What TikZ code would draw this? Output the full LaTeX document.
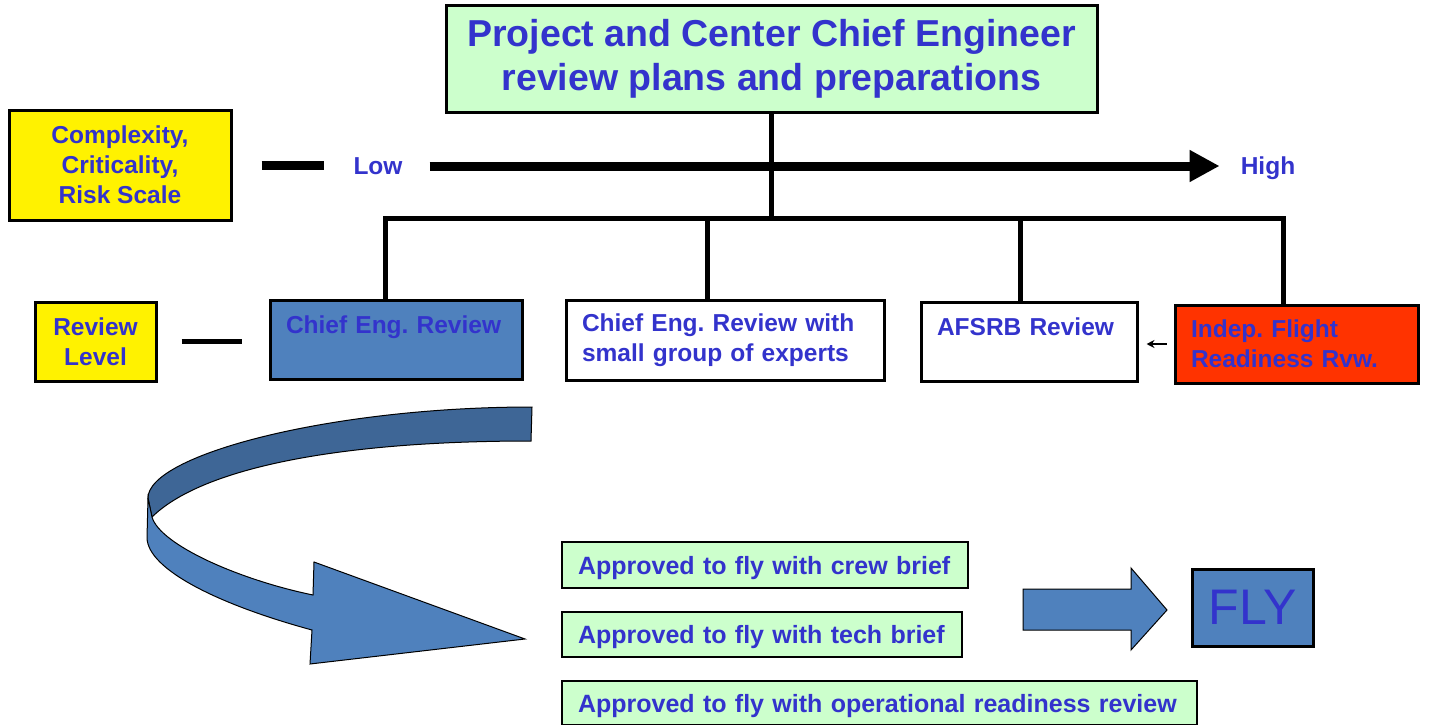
\documentclass[tikz,border=0pt]{standalone}
\usepackage{fontspec}
\setmainfont{Liberation Sans}
\usetikzlibrary{arrows.meta}
\definecolor{txtblue}{HTML}{3333CC}
\definecolor{palegreen}{HTML}{CCFFCC}
\definecolor{boxblue}{HTML}{4F81BD}
\definecolor{ribbondark}{HTML}{3E6696}
\definecolor{flame}{HTML}{FF3300}
\frenchspacing
\begin{document}
\begin{tikzpicture}[x=1pt, y=-1pt, line join=miter, >=stealth,
		every node/.style={text=txtblue, font=\fontsize{24.5}{30}\selectfont\bfseries},
		panel/.style={draw=black, line width=3pt, inner xsep=16pt, inner ysep=0pt},
		leftpanel/.style={panel, align=left},
		approved/.style={leftpanel, fill=palegreen, line width=2.5pt, text depth=0pt, font=\fontsize{25}{30}\selectfont\bfseries},
		lbl/.style={inner sep=0pt, text depth=0pt},
		branch/.style={line width=5pt}]
	\useasboundingbox (0,0) rectangle (1429,725);
	\node[panel, fill=palegreen, align=center, minimum width=651pt, minimum height=106pt, font=\fontsize{37.5}{44}\selectfont\bfseries] (title) at (771.5,59) {Project and Center Chief Engineer\\review plans and preparations};
	\node[panel, fill=yellow, align=center, minimum width=222pt, minimum height=110pt] (crit) at (120,165) {Complexity,\\Criticality,\\Risk Scale};
	\node[lbl] (low) at (378,166) {Low};
	\node[lbl] (high) at (1268,166) {High};
	\draw[line width=9pt, shorten <=29pt, shorten >=29pt] (crit.east) -- (crit.east -| low.west);
	\draw[line width=9pt, -{Triangle[length=30pt, width=30pt]}, shorten <=27pt, shorten >=21pt] (low.east) -- (high.west);
	
	\node[panel, fill=yellow, align=center, minimum width=121pt, minimum height=79pt] (level) at (95.5,341.5) {Review\\Level};
	\node[leftpanel, fill=boxblue, text width=220pt, minimum height=79pt] (chief) at (396,339.5) {Chief Eng. Review\\~};
	\node[leftpanel, fill=white, text width=286pt, minimum height=80pt] (group) at (725,340) {Chief Eng. Review with\\small group of experts};
	\node[leftpanel, fill=white, text width=184pt, minimum height=79pt] (afsrb) at (1029,341.5) {AFSRB Review\\~};
	\node[leftpanel, fill=flame, text width=211pt, minimum height=78pt] (indep) at (1296.5,344) {Indep. Flight\\Readiness Rvw.};
	\draw[line width=5pt, shorten <=24pt, shorten >=27pt] (level.east) -- (level.east -| chief.west);
	\draw[line width=1.5pt, -{Stealth[length=8pt, width=8pt]}, shorten <=7pt, shorten >=8pt] (indep.west) -- (indep.west -| afsrb.east);
	
	\coordinate (b1) at (385,218);
	\coordinate (b2) at (707,218);
	\coordinate (b3) at (1020,218);
	\coordinate (b4) at (1283,218);
	\draw[branch] (title.south) -- (title.south |- b1);
	\draw[branch] (b1 |- chief.north) -- (b1) -- (b4) -- (b4 |- indep.north);
	\draw[branch] (b2) -- (b2 |- group.north);
	\draw[branch] (b3) -- (b3 |- afsrb.north);
	
	\fill[ribbondark, draw=black, line width=1pt] (532,407) -- (531,441) .. controls (330,441) and (200,470) .. (152,517) -- (148,498) .. controls (148,455) and (330,407) .. (532,407) -- cycle;
	\fill[boxblue, draw=black, line width=1pt] (148,498) -- (147,538) .. controls (148,570) and (220,605) .. (312,630) -- (310,664) -- (525,639) -- (314,562) -- (313,595) .. controls (240,580) and (160,545) .. (152,517) -- cycle;
	
	\node[approved, text width=374pt, minimum height=46pt] (crew) at (765,565) {Approved to fly with crew brief};
	\node[approved, text width=368pt, minimum height=45pt] (tech) at (762,634.5) {Approved to fly with tech brief};
	\node[approved, text width=603pt, minimum height=44pt] (orr) at (879.5,703) {Approved to fly with operational readiness review};
	
	\fill[boxblue, draw=black, line width=1pt] (1023,589) -- (1131,589) -- (1131,568) -- (1167,610) -- (1131,650) -- (1131,630) -- (1023,630) -- cycle;
	\node[panel, fill=boxblue, minimum width=121pt, minimum height=77pt, font=\fontsize{50}{60}\selectfont] (fly) at (1252.5,607.5) {FLY};
\end{tikzpicture}
\end{document}
